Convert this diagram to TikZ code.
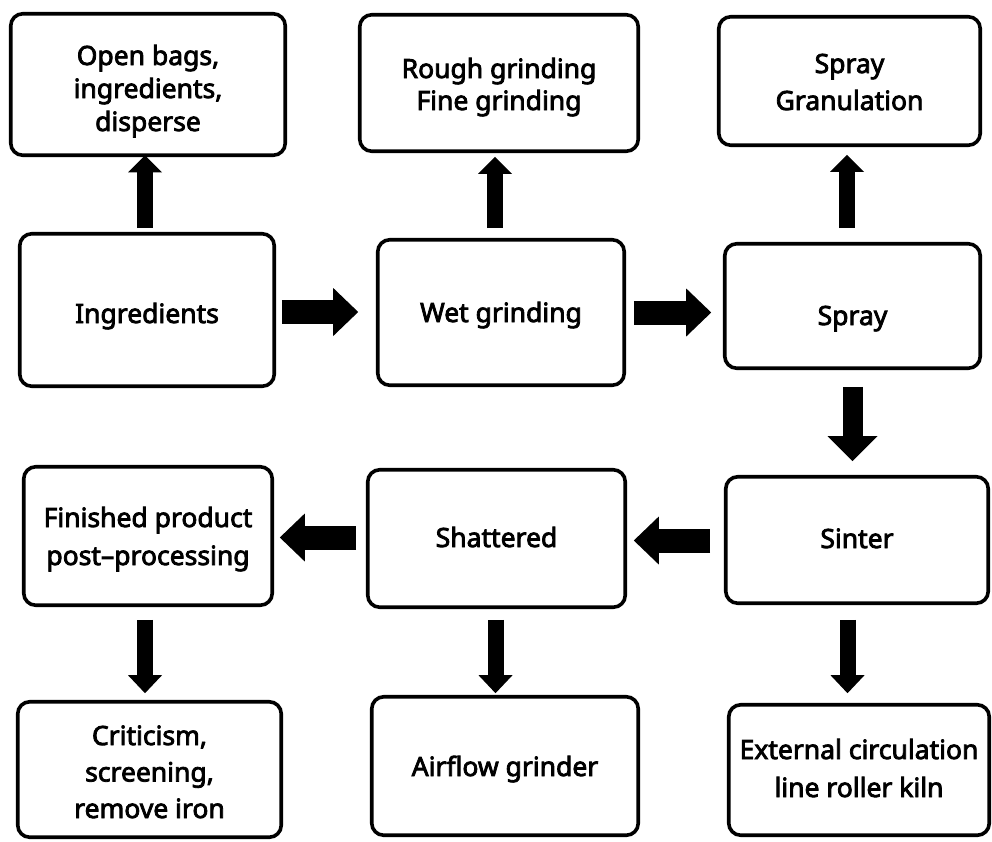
\documentclass[tikz,border=0pt]{standalone}
\usepackage{fontspec}
\setmainfont{Noto Sans}[FakeBold=3]
\usetikzlibrary{arrows.meta}
\begin{document}
\begin{tikzpicture}[x=1pt,y=-1pt,
  box/.style={draw=black, line width=3.6pt, rounded corners=12pt, fill=white,
    align=center, inner sep=0pt, font=\fontsize{26.5}{37}\selectfont},
  ls/.style={font=\fontsize{26.5}{#1}\selectfont},
  base/.style={text height=#1, text depth=0pt},
  harrow/.style={draw=black, line width=24pt, -{Triangle[length=25pt,width=48pt,line width=0pt]}},
  vuparrow/.style={draw=black, line width=16pt, -{Triangle[length=17pt,width=34pt,line width=0pt]}},
  vdnarrow/.style={draw=black, line width=16pt, -{Triangle[length=18pt,width=34pt,line width=0pt]}},
  bigdn/.style={draw=black, line width=20pt, -{Triangle[length=25pt,width=50pt,line width=0pt]}}
]
\fill[white] (0,0) rectangle (992,841);
\useasboundingbox (0,0) rectangle (992,841);

% row 1
\node[box, ls=33, base=93pt, minimum width=274.5pt, minimum height=141.5pt] (ob) at (148,84.5) {Open bags,\\ingredients,\\disperse};
\node[box, ls=32, base=54pt, minimum width=278.5pt, minimum height=136.5pt] (rg) at (499,83) {Rough grinding\\Fine grinding};
\node[box, ls=37, base=58pt, minimum width=261.5pt, minimum height=128.5pt] (sg) at (849.5,81) {Spray\\Granulation};
% row 2
\node[box, base=26pt, minimum width=254.5pt, minimum height=152.5pt] (ing) at (147,310) {Ingredients};
\node[box, base=19pt, minimum width=246.5pt, minimum height=145.5pt] (wg) at (501,312.5) {Wet grinding};
\node[box, base=38pt, minimum width=255.5pt, minimum height=124.5pt] (sp) at (852.5,306) {Spray};
% row 3
\node[box, ls=38, base=58pt, minimum width=248.5pt, minimum height=138.5pt] (fp) at (148,536) {Finished product\\post–processing};
\node[box, base=17pt, minimum width=257.5pt, minimum height=137.5pt] (sh) at (496.5,538.5) {Shattered};
\node[box, base=16pt, minimum width=262.5pt, minimum height=126.5pt] (si) at (857,540) {Sinter};
% row 4
\node[box, ls=36.5, base=97pt, minimum width=263.5pt, minimum height=135.5pt] (cr) at (149.5,769.5) {Criticism,\\screening,\\remove iron};
\node[box, base=20pt, minimum width=266.5pt, minimum height=138.5pt] (ag) at (505,766) {Airflow grinder};
\node[box, ls=38, base=54pt, minimum width=260.5pt, minimum height=130.5pt] (ex) at (859,770) {External circulation\\line roller kiln};

% up arrows
\draw[vuparrow, shorten <=3.75pt, shorten >=-1.75pt] ([xshift=-2pt]ing.north) -- ([xshift=-2pt]ing.north |- ob.south);
\draw[vuparrow, shorten <=9.75pt, shorten >=3.75pt] ([xshift=-6pt]wg.north) -- ([xshift=-6pt]wg.north |- rg.south);
\draw[vuparrow, shorten <=13.75pt, shorten >=7.75pt] ([xshift=-5.5pt]sp.north) -- ([xshift=-5.5pt]sp.north |- sg.south);
% horizontal arrows
\draw[harrow, shorten <=5.75pt, shorten >=17.75pt] ([yshift=0.5pt]ing.east |- wg.west) -- ([yshift=0.5pt]wg.west);
\draw[harrow, shorten <=7.75pt, shorten >=11.75pt] (wg.east) -- (wg.east -| sp.west);
\draw[harrow, shorten <=13.75pt, shorten >=6.75pt] ([yshift=-0.5pt]si.west) -- ([yshift=-0.5pt]si.west -| sh.east);
\draw[harrow, shorten <=9.75pt, shorten >=5.75pt] ([yshift=1pt]sh.west) -- ([yshift=1pt]sh.west -| fp.east);
% down arrows
\draw[bigdn, shorten <=16.75pt, shorten >=13.75pt] (sp.south) -- (sp.south |- si.north);
\draw[vdnarrow, shorten <=12.75pt, shorten >=6.75pt] ([xshift=-3pt]fp.south) -- ([xshift=-3pt]fp.south |- cr.north);
\draw[vdnarrow, shorten <=10.75pt, shorten >=1.75pt] ([xshift=-1pt]sh.south) -- ([xshift=-1pt]sh.south |- ag.north);
\draw[vdnarrow, shorten <=14.75pt, shorten >=9.75pt] ([xshift=-9.5pt]si.south) -- ([xshift=-9.5pt]si.south |- ex.north);
\end{tikzpicture}
\end{document}
